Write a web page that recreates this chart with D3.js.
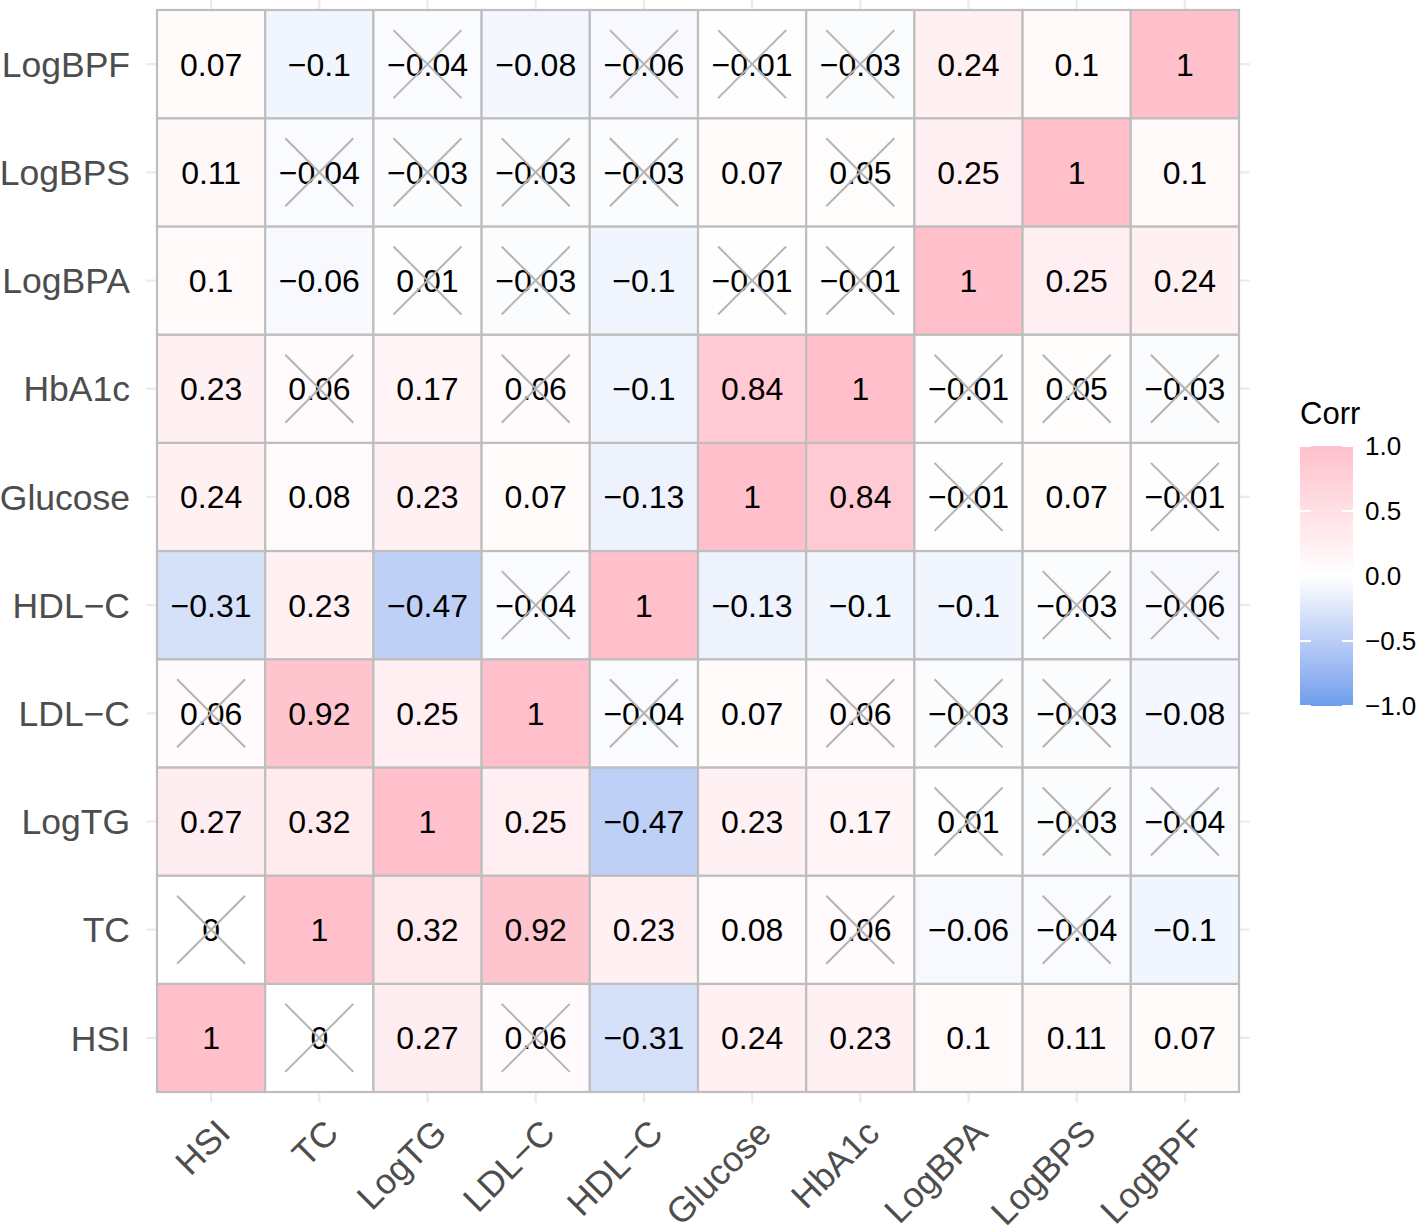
<!DOCTYPE html>
<html>
<head>
<meta charset="utf-8">
<script src="https://cdn.jsdelivr.net/npm/d3@7"></script>
<style>
  body { margin: 0; background: #fff; }
  svg { display: block; font-family: "Liberation Sans", Arial, Helvetica, sans-serif; }
</style>
</head>
<body>
<div id="chart"></div>
<script>
// variables, in column order (rows are drawn bottom to top in the same order)
let vars = ["HSI", "TC", "LogTG", "LDL-C", "HDL-C", "Glucose", "HbA1c", "LogBPA", "LogBPS", "LogBPF"]

// correlation rows, same order as vars
let rHSI     = [1, 0, 0.27, 0.06, -0.31, 0.24, 0.23, 0.1, 0.11, 0.07]
let rTC      = [0, 1, 0.32, 0.92, 0.23, 0.08, 0.06, -0.06, -0.04, -0.1]
let rLogTG   = [0.27, 0.32, 1, 0.25, -0.47, 0.23, 0.17, 0.01, -0.03, -0.04]
let rLDL     = [0.06, 0.92, 0.25, 1, -0.04, 0.07, 0.06, -0.03, -0.03, -0.08]
let rHDL     = [-0.31, 0.23, -0.47, -0.04, 1, -0.13, -0.1, -0.1, -0.03, -0.06]
let rGlucose = [0.24, 0.08, 0.23, 0.07, -0.13, 1, 0.84, -0.01, 0.07, -0.01]
let rHbA1c   = [0.23, 0.06, 0.17, 0.06, -0.1, 0.84, 1, -0.01, 0.05, -0.03]
let rLogBPA  = [0.1, -0.06, 0.01, -0.03, -0.1, -0.01, -0.01, 1, 0.25, 0.24]
let rLogBPS  = [0.11, -0.04, -0.03, -0.03, -0.03, 0.07, 0.05, 0.25, 1, 0.1]
let rLogBPF  = [0.07, -0.1, -0.04, -0.08, -0.06, -0.01, -0.03, 0.24, 0.1, 1]

// 1 = not significant (crossed out)
let nsHSI     = [0, 1, 0, 1, 0, 0, 0, 0, 0, 0]
let nsTC      = [1, 0, 0, 0, 0, 0, 1, 0, 1, 0]
let nsLogTG   = [0, 0, 0, 0, 0, 0, 0, 1, 1, 1]
let nsLDL     = [1, 0, 0, 0, 1, 0, 1, 1, 1, 0]
let nsHDL     = [0, 0, 0, 1, 0, 0, 0, 0, 1, 1]
let nsGlucose = [0, 0, 0, 0, 0, 0, 0, 1, 0, 1]
let nsHbA1c   = [0, 1, 0, 1, 0, 0, 0, 1, 1, 1]
let nsLogBPA  = [0, 0, 1, 1, 0, 1, 1, 0, 0, 0]
let nsLogBPS  = [0, 1, 1, 1, 1, 0, 1, 0, 0, 0]
let nsLogBPF  = [0, 0, 1, 0, 1, 1, 1, 0, 0, 0]

let corrRows = [rHSI, rTC, rLogTG, rLDL, rHDL, rGlucose, rHbA1c, rLogBPA, rLogBPS, rLogBPF]
let nsRows = [nsHSI, nsTC, nsLogTG, nsLDL, nsHDL, nsGlucose, nsHbA1c, nsLogBPA, nsLogBPS, nsLogBPF]

let legendTicks = [-1, -0.5, 0, 0.5, 1]

let cells = []
vars.forEach((rv, i) => {
    vars.forEach((cv, j) => {
        cells.push({row: rv, col: cv, r: corrRows[i][j], ns: nsRows[i][j]})
    })
})

let W = 1417, H = 1229
let svg = d3.select("#chart")
    .append("svg")
        .attr("width", W)
        .attr("height", H)

let x = d3.scaleBand().domain(vars).range([157, 1239])
let y = d3.scaleBand().domain(vars.slice().reverse()).range([10, 1092])
let bw = x.bandwidth()
let expand = bw * 0.1

let fill = d3.scaleLinear()
    .domain([-1, 0, 1])
    .range(["#6D9EEB", "#FFFFFF", "#FFC0CB"])
    .interpolate(d3.interpolateLab)

let fmt = v => String(v).replace("-", "\u2212")

// panel grid
let grid = svg.append("g").attr("id", "grid")
grid.selectAll("line.v")
    .data(vars)
    .enter().append("line")
        .attr("class", "v")
        .attr("x1", d => x(d) + bw / 2)
        .attr("x2", d => x(d) + bw / 2)
        .attr("y1", 10 - expand)
        .attr("y2", 1092 + expand)
        .attr("stroke", "#EBEBEB")
        .attr("stroke-width", 2.2)
grid.selectAll("line.h")
    .data(vars)
    .enter().append("line")
        .attr("class", "h")
        .attr("y1", d => y(d) + bw / 2)
        .attr("y2", d => y(d) + bw / 2)
        .attr("x1", 157 - expand)
        .attr("x2", 1239 + expand)
        .attr("stroke", "#EBEBEB")
        .attr("stroke-width", 2.2)

let body = svg.append("g").attr("id", "body")

body.selectAll("rect")
    .data(cells)
    .enter().append("rect")
        .attr("x", d => x(d.col))
        .attr("y", d => y(d.row))
        .attr("width", bw)
        .attr("height", bw)
        .attr("fill", d => fill(d.r))
        .attr("stroke", "#BEBEBE")
        .attr("stroke-width", 2.2)

body.selectAll("text")
    .data(cells)
    .enter().append("text")
        .attr("x", d => x(d.col) + bw / 2)
        .attr("y", d => y(d.row) + bw / 2)
        .attr("text-anchor", "middle")
        .attr("dy", "0.36em")
        .attr("font-size", 32)
        .attr("fill", "#000")
        .text(d => fmt(d.r))

// crosses for non significant cells
let half = 34
let crosses = body.selectAll("g.cross")
    .data(cells.filter(d => d.ns == 1))
    .enter().append("g")
        .attr("class", "cross")
        .attr("transform", d => `translate(${x(d.col) + bw / 2},${y(d.row) + bw / 2})`)
crosses.append("line")
    .attr("x1", -half).attr("y1", -half).attr("x2", half).attr("y2", half)
crosses.append("line")
    .attr("x1", -half).attr("y1", half).attr("x2", half).attr("y2", -half)
crosses.selectAll("line")
    .attr("stroke", "#B4B4B4")
    .attr("stroke-width", 2)

// axes labels
svg.append("g").attr("id", "yAxis")
    .selectAll("text")
    .data(vars)
    .enter().append("text")
        .attr("x", 130)
        .attr("y", d => y(d) + bw / 2)
        .attr("dy", "0.36em")
        .attr("text-anchor", "end")
        .attr("font-size", 35.5)
        .attr("fill", "#4D4D4D")
        .text(d => d.replace("-", "\u2212"))

svg.append("g").attr("id", "xAxis")
    .selectAll("text")
    .data(vars)
    .enter().append("text")
        .attr("transform", d => `translate(${x(d) + bw / 2 + 3},1117) rotate(-45)`)
        .attr("dy", "0.72em")
        .attr("text-anchor", "end")
        .attr("font-size", 35.5)
        .attr("fill", "#4D4D4D")
        .text(d => d.replace("-", "\u2212"))

// legend
let leg = svg.append("g").attr("id", "legend")
let ly = d3.scaleLinear().domain([-1, 1]).range([706, 446])
let grad = svg.append("defs").append("linearGradient")
    .attr("id", "corrGrad")
    .attr("x1", 0).attr("y1", 1).attr("x2", 0).attr("y2", 0)
grad.selectAll("stop")
    .data(d3.range(0, 21).map(i => -1 + i * 0.1))
    .enter().append("stop")
        .attr("offset", d => (d + 1) / 2)
        .attr("stop-color", d => fill(d))

leg.append("text")
    .attr("x", 1300)
    .attr("y", 424)
    .attr("font-size", 31)
    .attr("fill", "#000")
    .text("Corr")

leg.append("rect")
    .attr("x", 1300)
    .attr("y", ly(1))
    .attr("width", 53)
    .attr("height", ly(-1) - ly(1))
    .attr("fill", "url(#corrGrad)")

leg.selectAll("line.tl")
    .data(legendTicks)
    .enter().append("line")
        .attr("class", "tl")
        .attr("x1", 1300).attr("x2", 1311)
        .attr("y1", d => ly(d)).attr("y2", d => ly(d))
leg.selectAll("line.tr")
    .data(legendTicks)
    .enter().append("line")
        .attr("class", "tr")
        .attr("x1", 1342).attr("x2", 1353)
        .attr("y1", d => ly(d)).attr("y2", d => ly(d))
leg.selectAll("line")
    .attr("stroke", "#fff")
    .attr("stroke-width", 2)

leg.selectAll("text.tick")
    .data(legendTicks)
    .enter().append("text")
        .attr("class", "tick")
        .attr("x", 1365)
        .attr("y", d => ly(d))
        .attr("dy", "0.36em")
        .attr("font-size", 26)
        .attr("fill", "#000")
        .text(d => d3.format(".1f")(d))
</script>
</body>
</html>
